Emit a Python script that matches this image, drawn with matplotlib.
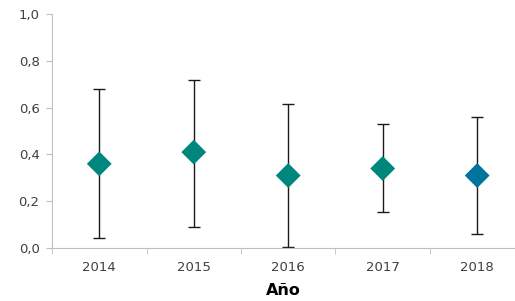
import numpy as np
import matplotlib.pyplot as plt

# data
years = ['2014', '2015', '2016', '2017', '2018']
media = [0.36, 0.41, 0.31, 0.34, 0.31]
sup = [0.68, 0.718, 0.615, 0.53, 0.56]
inf = [0.043, 0.09, 0.004, 0.154, 0.06]
colores = ['#00877D', '#00877D', '#00877D', '#00877D', '#00749E']

x = np.arange(len(years))
err_lo = np.array(media) - np.array(inf)
err_hi = np.array(sup) - np.array(media)

fig = plt.figure(figsize=(5.15, 3.01), dpi=100)
ax = fig.add_axes([0.101, 0.176, 0.899, 0.777])

ax.errorbar(x, media, yerr=[err_lo, err_hi], fmt='none', ecolor='#1a1a1a',
            elinewidth=1.0, capsize=4.5, capthick=1.0, zorder=1)
for i in range(len(x)):
    ax.scatter(x[i], media[i], marker='D', s=160, color=colores[i],
               edgecolors='none', zorder=2)

ax.set_ylim(0, 1.0)
ax.set_xlim(-0.5, 4.4)
ax.set_yticks(np.arange(0, 1.01, 0.2))
ax.set_yticklabels([('%.1f' % v).replace('.', ',') for v in np.arange(0, 1.01, 0.2)])
ax.set_xticks(x)
ax.set_xticklabels(years)
ax.set_xticks(np.arange(-0.5, 4.5, 1), minor=True)
ax.tick_params(axis='x', which='major', length=0, pad=9, labelsize=9.5, colors='#404040')
ax.tick_params(axis='x', which='minor', length=4, direction='out', color='#bfbfbf')
ax.tick_params(axis='y', length=4, direction='out', color='#bfbfbf', labelsize=9.5,
               labelcolor='#404040', pad=5)

for s in ['top', 'right']:
    ax.spines[s].set_visible(False)
for s in ['left', 'bottom']:
    ax.spines[s].set_color('#bfbfbf')

ax.set_xlabel('Año', fontsize=11.5, fontweight='bold', labelpad=7)

fig.savefig('out.png', dpi=100)
